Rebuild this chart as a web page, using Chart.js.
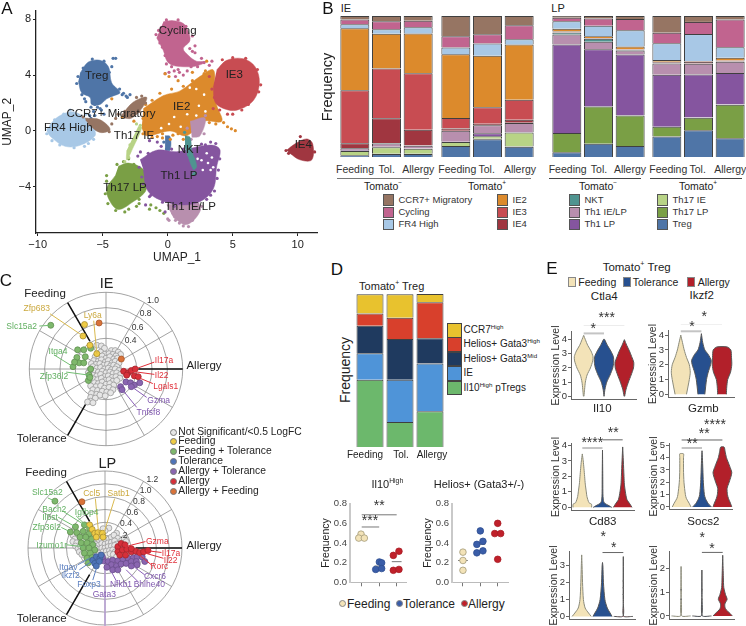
<!DOCTYPE html>
<html>
<head>
<meta charset="utf-8">
<script src="https://cdn.jsdelivr.net/npm/chart.js@4/dist/chart.umd.min.js"></script>
<style>
html, body { margin: 0; padding: 0; background: #fff; overflow: hidden; }
#page { position: relative; width: 746px; height: 626px; overflow: hidden; font-family: "Liberation Sans", Arial, sans-serif; color: #222; }
#page canvas { position: absolute; }
.t { position: absolute; white-space: nowrap; transform: translate(-50%, -50%); line-height: 1; }
.box { position: absolute; box-sizing: border-box; }
sup { font-size: 62%; line-height: 0; }
</style>
</head>
<body>
<div id="page"></div>
<script>
// ---- panel A, UMAP clusters: outline of each blob and stray cells around it
const cyclingShape = [[-0.33,7.82],[0.4,7.9],[1.2,7.7],[1.59,7.13],[1.7,6.44],[1.2,5.9],[1.6,5.4],[2.2,5.0],[2.9,4.95],[2.2,4.65],[1.2,4.6],[0.4,4.7],[-0.05,5.0],[-0.33,5.75],[-0.85,6.67]];
const cyclingDots = [[-0.5,7.4],[-0.9,6.9],[-0.4,6.0],[-0.2,5.4],[0.3,4.6],[0.8,4.4],[1.2,4.0],[0.6,3.9],[-0.2,4.1],[2.3,4.6],[2.8,4.9],[3.2,4.7],[1.9,5.7],[2.1,6.1],[0.5,4.3],[3.4,5.0],[2.6,5.2],[0.1,4.2],[0.9,4.2],[1.5,4.3],[1.8,4.6],[-0.1,4.8],[2.1,5.6],[1.7,5.9],[1.4,5.3],[1.6,6.6],[1.9,6.8],[-0.7,7.2],[-0.6,6.3],[-0.1,7.95],[0.8,7.95],[1.4,7.5]];
const tregShape = [[-6.74,4.14],[-6.1,4.94],[-5.2,5.06],[-4.56,4.6],[-4.31,3.45],[-3.67,2.76],[-4.2,2.5],[-4.69,2.3],[-5.2,1.9],[-5.85,1.9],[-5.97,2.4],[-6.62,2.74],[-6.87,3.56]];
const tregDots = [[-5.6,1.1],[-5.9,0.9],[-5.1,1.5],[-4.7,1.8],[-3.1,2.4],[-3.4,2.7],[-4.3,4.6],[-4.2,5.2],[-4.0,5.2],[-0.3,-0.8],[-0.1,-1.3],[-6.6,2.6],[-6.3,2.1],[-2.9,2.6],[-3.7,3.0],[-5.4,1.7],[-5.7,1.4],[-6.0,1.1],[-4.9,1.2],[-6.9,3.9],[-7.0,3.4],[-6.5,4.5],[-5.8,5.15],[-4.9,5.0],[-4.5,4.2],[-4.2,3.1],[-3.5,2.6],[-3.2,2.5],[-6.4,2.3],[-5.9,1.7],[-5.6,1.9],[-5.2,1.6]];
const fr4Shape = [[-9.05,0.46],[-8.41,1.03],[-7.38,1.38],[-6.49,1.03],[-5.72,0.23],[-5.59,-0.34],[-6.74,-1.03],[-7.9,-1.1],[-8.95,-0.46],[-9.3,0.0]];
const fr4Dots = [[-9.2,0.1],[-9.3,-0.2],[-8,1.2],[-7.5,1.5],[-6.3,1.2],[-5.5,0.1],[-5.7,-0.6],[-6.1,-0.9],[-8.7,0.8],[-8.9,-0.7],[-8.3,-1.0],[-7.2,-1.2],[-6.4,-1.1]];
const ccr7ShapeA = [[-6.36,0.92],[-5.2,0.8],[-4.43,0.11],[-5.2,-0.11],[-6.1,0.46]];
const ccr7ShapeB = [[-3.54,1.15],[-2.64,2.07],[-1.62,2.41],[-2.0,1.6],[-2.77,0.92],[-3.41,0.92]];
const ccr7Dots = [[-2.0,2.5],[-1.7,2.0],[-3.3,1.4],[-4.0,0.9],[-4.3,0.5],[-4.5,-0.05],[-3.8,1.2],[-2.4,2.4],[-2.2,1.4],[-6.5,1],[-6.2,0.8]];
const ie2Shape = [[-1.87,1.6],[-0.33,2.53],[0.95,2.87],[2.49,3.91],[3.51,4.37],[3.6,2.76],[3.77,1.84],[4.15,0.69],[2.74,0.69],[1.46,-0.34],[0.18,0],[-1.62,-0.34],[-2.0,0.23]];
const ie2Dots = [[4.3,0.6],[4.6,0.3],[4.9,0.15],[5.2,0.02],[4.0,0.75],[-0.4,-0.5],[0.2,-0.6],[1.2,-0.6],[3.6,1.5],[3.0,5.0],[2.8,4.1],[-0.2,4.1],[0.8,3.6],[1.9,4.2],[0.1,3.9],[-1.9,0.9],[-2.6,0.7],[-3.5,1.0],[-4.3,2.3],[-0.8,-0.4],[-1.7,1.9],[-1.2,2.2],[-0.6,2.7],[0.3,3.0],[1.2,3.2],[1.9,3.6],[2.9,4.3],[0.8,-0.2],[0.4,-0.3],[-0.4,-0.2],[-1.2,-0.45],[-1.9,-0.2],[2.2,0.3],[3.2,0.6],[3.7,0.5]];
const ie3Shape = [[3.77,4.37],[4.54,5.06],[5.82,5.17],[6.72,4.6],[7.05,3.45],[6.59,2.18],[5.31,1.49],[4.28,1.61],[3.64,2.07],[3.51,3.22]];
const ie3Dots = [[3.2,3.9],[3.4,3.0],[3.6,2.4],[3.5,1.6],[5,1.2],[4.6,1.2],[4.2,5.1],[5,5.25],[6,5.2],[6.9,4.4],[7.15,3.3],[7.0,2.8],[6.2,1.9],[5.7,1.5],[4.0,1.5]];
const ie4Shape = [[9.15,-1.38],[9.8,-0.92],[10.69,-0.57],[11.15,-0.92],[11.08,-2.07],[10.18,-2.07],[9.41,-1.61]];
const ie4Dots = [[10.2,-0.4],[9.1,-1.4],[9.3,-1.6],[11.3,-1.5],[9.5,-1.3]];
const th1LpShape = [[-2.13,-2.07],[-0.85,-1.38],[0.69,-1.49],[2.23,-1.15],[3.51,-1.03],[4.03,-1.38],[3.77,-2.53],[3.51,-4.14],[2.49,-5.06],[0.95,-5.29],[-0.85,-4.83],[-1.62,-4.14],[-1.87,-2.76]];
const th1LpDots = [[-2.3,-1.8],[-2.1,-1.5],[-1.4,-0.7],[-0.8,-0.8],[-0.5,-1.1],[3.7,-0.9],[3.8,-1.4],[4.0,-2],[3.3,-0.8],[2.9,-1],[2.7,-4.6],[3.3,-4.6],[-1.4,-4.7],[-1.9,-2.2],[-1.7,-5.3],[-0.2,-5.8],[-2.2,-2.6],[-2.0,-3.3],[-1.9,-3.8],[-1.3,-4.6],[-0.4,-5.1],[0.5,-5.4],[3.9,-2.8],[3.8,-3.4],[3.6,-4.3],[3.0,-4.9],[0.3,-1.3],[1.2,-1.3],[2.6,-0.95],[-1.5,-1.6]];
const th1IeLpShapeA = [[-0.08,-5.29],[2.23,-5.06],[2.49,-5.75],[1.46,-6.71],[0.44,-6.21]];
const th1IeLpShapeB = [[1.72,0.69],[2.87,0.92],[2.49,-0.34],[1.85,-0.46]];
const th1IeLpDots = [[0,-6.3],[0.1,-6.4],[0.6,-6.4],[2.6,-5.4],[2.8,-0.2],[2.9,1.1],[1.5,0.2],[1.8,-0.6],[2.4,-5.6],[0.4,-5.9],[1.9,-6.4],[1.2,-6.8],[1.6,-6.85],[0.9,-6.6]];
const th17LpShape = [[-3.79,-2.53],[-3.03,-2.3],[-1.87,-2.76],[-1.62,-3.68],[-1.74,-4.37],[-2.64,-5.06],[-3.79,-5.63],[-4.43,-5.06],[-4.69,-4.14],[-4.05,-3.22]];
const th17LpDots = [[-1.3,-5.3],[-0.9,-5.5],[-0.6,-5.7],[-2.2,-5.2],[-3,-5.6],[-4.7,-3.2],[-4.7,-3.6],[-1.4,-5.6],[-0.3,-5.9],[-3,-2],[-2.6,-2.4],[-2.4,-5.4],[-4.8,-4.5],[-4.6,-5.2],[-4.0,-5.7],[-3.3,-5.8],[-2.2,-4.9],[-3.9,-2.4],[-3.4,-2.2]];
const th17IeShape = [[-2.26,0.34],[-2.0,0.23],[-2.64,-1.15],[-3.15,-2.07],[-3.15,-1.38]];
const th17IeDots = [[-3.3,-2.2],[-3,-1.9],[-2.9,-1],[-2.4,0.5],[-2.1,0.4]];
const nktShape = [[1.33,-0.34],[1.72,-0.46],[1.85,-1.38],[2.23,-2.53],[1.97,-2.76],[1.33,-1.15]];
const nktDots = [[2.1,-3],[2.0,-3.1],[1.3,-0.1],[1.6,-1.7],[2.0,-2],[1.5,-0.7]];
const tregSmallShape = [[-0.2,-0.34],[0.18,-0.4],[0.18,-1.38],[-0.2,-1.38]];
const umapGaps = [[2.6,-2.1],[3.1,-2.3],[3.4,-1.9],[3.0,-1.6],[2.7,-2.8],[3.3,-2.8],[2.3,-2.0],[3.5,-2.6],[2.4,1.8],[2.9,1.4],[2.2,1.1],[1.0,0.3],[0.5,1.0],[2.8,2.6],[1.5,1.2],[0.1,0.5],[-0.5,0.2],[1.7,3.1],[2.2,3.0]];
const umapXTicks = [-10, -5, 0, 5, 10];
const umapYTicks = [-4, 0, 4, 8];

// ---- panel B, cluster frequency (%) per bar, 12 bars left to right
const barLabels = ["Feeding", "Tol.", "Allergy"];
const ccr7 =    [2.4,3.8,3.3, 14.4,13,6.6, 1.2,1.7,2.1, 11.8,4.2,2.4];
const cycling = [3.5,5.7,4.7, 8,6.6,9.9, 2.6,5.2,8, 7.5,8.7,19.8];
const fr4 =     [2.8,3.1,4.5, 4.7,8.7,3.8, 5.2,7.5,11.6, 11.8,19.3,7.5];
const ie2 =     [43.9,24.8,28.1, 45.3,36.6,39.4, 2.1,1.2,1.9, 1.4,0.3,1.9];
const ie3 =     [37.5,35.4,40.3, 7.5,11.8,14.4, 0.4,0.3,0.3, 0.3,0.3,0.3];
const ie4 =     [3.3,17.7,11.1, 1.6,0.9,2.1, 0.4,0.3,0.3, 0.7,1.2,0.5];
const nkt =     [0.2,0.2,0.2, 0.1,0.1,0.1, 1.2,2.1,0.3, 0.1,0.1,0.1];
const th1IeLp = [1.4,2.4,1.9, 7.8,5.7,6.6, 7.1,5.4,2.8, 8,7.8,8];
const th1Lp =   [0.5,0.3,0.3, 0.1,2.1,0.2, 63,40.6,43.2, 36.8,30.7,22.4];
const th17Ie =  [2.8,4.7,3.5, 2.8,1.9,9.9, 0.1,0.1,0.1, 0.1,0.1,0.1];
const th17Lp =  [0.3,0.2,0.2, 0.1,0.2,0.3, 13.7,26.4,21.7, 6.8,9,23.8];
const treg =    [1.2,2.1,2.1, 7.8,12.7,7.3, 3.3,9.4,7.8, 14.6,19.1,13.4];

// ---- panel C, logFC plots: x is Allergy side, grey = not significant
const ieRings = [0.2, 0.4, 0.6, 0.8, 1.0];
const lpRings = [0.2, 0.4, 0.6, 0.8, 1.0, 1.2];
const ieGrey = [[-.12,.31],[-.06,.3],[-.02,.27],[.07,.24],[.12,.24],[.16,.22],[.19,.19],[-.11,.2],[-.07,.22],[-.02,.19],[.04,.2],[.09,.19],[.13,.17],[-.14,.16],[-.09,.15],[-.05,.17],[0,.14],[.05,.16],[.1,.13],[.15,.14],[-.16,.11],[-.1,.1],[-.06,.12],[-.01,.09],[.03,.11],[.08,.08],[.12,.1],[.17,.08],[-.19,.07],[-.13,.06],[-.08,.07],[-.03,.05],[.02,.06],[.06,.04],[.1,.05],[.14,.03],[-.17,.03],[-.12,.01],[-.07,.02],[-.02,0],[.03,.01],[.07,-.01],[.12,0],[.17,-.02],[-.21,-.01],[-.15,-.03],[-.1,-.04],[-.05,-.03],[0,-.05],[.05,-.04],[.09,-.06],[.14,-.05],[.19,-.07],[-.23,-.05],[-.17,-.08],[-.12,-.09],[-.07,-.07],[-.02,-.1],[.03,-.09],[.08,-.11],[.13,-.1],[.18,-.12],[-.16,-.13],[-.11,-.14],[-.06,-.12],[-.01,-.15],[.04,-.14],[.09,-.16],[.14,-.15],[-.15,-.18],[-.1,-.19],[-.05,-.17],[0,-.2],[.05,-.19],[.1,-.21],[-.2,-.22],[-.13,-.23],[-.07,-.22],[-.02,-.25],[.04,-.24],[.09,-.27],[-.17,-.27],[-.11,-.28],[-.05,-.29],[.01,-.3],[.06,-.31],[-.19,-.32],[-.12,-.33],[-.08,-.34],[-.01,-.35],[-.2,-.37],[-.14,-.38],[-.2,-.42],[-.24,-.43],[-.17,-.44]];
const ieFeeding = [[-.28,.58],[-.3,.43],[-.21,.31],[-.12,.2]];
const ieAllergyFeeding = [[-.09,.6],[.2,.13]];
const ieFeedingTol = [[-.72,.57],[-.37,.25],[-.29,.25],[-.38,.15],[-.27,.16],[-.43,.03],[-.35,.08],[-.29,.08],[-.41,.09],[-.2,0],[-.22,-.08],[-.23,-.15],[-.21,-.11],[-.2,.27]];
const ieAllergy = [[.23,-.03],[.29,-.05],[.33,-.02],[.38,0],[.27,-.08],[.37,-.09],[.42,-.1]];
const ieAllergyTol = [[.19,-.23],[.21,-.27],[.26,-.17],[.32,-.18],[.37,-.21],[.44,-.18],[.33,-.23]];
const lpGrey = [[-.5,.2],[-.47,.14],[-.5,.1],[-.44,.08],[-.46,.03],[-.42,-.01],[-.38,.03],[-.4,-.06],[-.36,-.1],[-.3,-.12],[-.14,.12],[-.1,.1],[-.05,.13],[.01,.12],[.06,.14],[.1,.17],[.06,.31],[0,.27],[-.03,.3],[.18,.23],[.14,.2],[.2,.15],[.26,.12],[.3,.15],[.33,.1],[-.15,.06],[-.1,.04],[-.05,.07],[0,.06],[.05,.08],[.1,.09],[.15,.11],[.18,.06],[-.15,0],[-.1,-.02],[-.05,0],[0,0],[.05,.02],[.1,.03],[.15,.04],[-.13,-.06],[-.08,-.08],[-.03,-.06],[.02,-.05],[.07,-.04],[.12,-.03],[.16,-.06],[-.12,-.11],[-.02,-.12],[.03,-.11],[.08,-.09],[.13,-.1],[.18,-.14]];
const lpFeeding = [[-.24,.36],[-.2,.29],[-.16,.23],[-.11,.24],[-.04,.23],[-.135,.17],[-.03,.17]];
const lpAllergyFeeding = [[-.36,.72]];
const lpFeedingTol = [[-.78,.73],[-.32,.36],[-.24,.3],[-.46,.33],[-.54,.25],[-.44,.24],[-.34,.26],[-.25,.22],[-.39,.17],[-.3,.17],[-.21,.14],[-.37,.08],[-.28,.08],[-.19,.05],[-.34,0],[-.25,0],[-.16,-.03],[-.32,-.08],[-.23,-.08],[-.28,-.16],[-.2,-.15],[-.26,-.23]];
const lpTolerance = [[-.19,-.19],[-.135,-.135],[-.08,-.16],[-.16,-.24],[-.09,-.21],[-.135,-.28],[-.06,-.11]];
const lpAllergyTol = [[-.02,-.2],[.05,-.21],[.12,-.19],[.2,-.2],[.28,-.18],[.36,-.16],[.44,-.15],[.5,-.14],[.58,-.14],[.1,-.26],[.18,-.28],[.25,-.25],[.33,-.24],[.41,-.21],[.49,-.21],[.03,-.3],[.12,-.34],[.2,-.34],[.41,-.28],[.5,-.26],[.62,-.21],[-.04,-.14]];
const lpAllergy = [[.2,.02],[.25,.07],[.31,.05],[.2,-.06],[.27,-.03],[.34,-.02],[.41,-.06],[.48,-.05],[.23,-.11],[.32,-.11],[.41,-.01],[.54,-.07],[.6,-.06],[.67,-.04]];
// leader lines from gene name to its dot
const ieYellowLeaders = [[[-.73,.72],[-.3,.43]], [[-.16,.63],[-.12,.2]]];
const ieGreenLeaders = [[[-.87,.56],[-.72,.57]], [[-.67,.18],[-.43,.03]], [[-.52,-.04],[-.22,-.08]]];
const ieRedLeaders = [[[.63,.09],[.38,0]], [[.63,-.07],[.33,-.03]], [[.61,-.19],[.37,-.09]]];
const iePurpleLeaders = [[[.53,-.37],[.26,-.18]], [[.4,-.5],[.19,-.24]]];
const lpYellowLeaders = [[[-.15,.77],[-.1,.23]], [[.15,.77],[-.03,.19]]];
const lpGreenLeaders = [[[-.89,.78],[-.78,.73]], [[-.45,.5],[-.25,.31]], [[-.65,.57],[-.32,.36]], [[-.73,.48],[-.46,.33]], [[-.68,.32],[-.54,.25]], [[-.6,.05],[-.34,.02]]];
const lpRedLeaders = [[[.63,.1],[.31,.02]], [[.88,-.07],[.64,-.04]], [[.91,-.16],[.59,-.07]], [[.72,-.26],[.51,-.09]]];
const lpPurpleLeaders = [[[.62,-.42],[.41,-.26]], [[.51,-.52],[.33,-.34]], [[.18,-.52],[.1,-.37]], [[0,-.15],[0,-1.22]]];
const lpBlueLeaders = [[[-.19,-.5],[-.135,-.32]], [[-.4,-.34],[-.21,-.21]], [[-.42,-.26],[-.24,-.16]]];

// ---- panel D
const dIl10 =   [43.9, 16.3, 23.3];
const dIe =     [17.4, 27.6, 31.3];
const dMid =    [18.0, 26.7, 16.5];
const dHigh =   [8.0, 13.9, 23.5];
const dCcr7 =   [12.6, 15.4, 5.4];
const freqTicks = [0, 0.2, 0.4, 0.6, 0.8];
const groupTicks = [1, 2, 3];
const il10Feeding = [[0.96,.49],[0.83,.45],[1.15,.45]];
const il10Tolerance = [[2.01,.207],[2.14,.198],[1.8,.131],[2.14,.14]];
const il10Allergy = [[3.13,.316],[2.81,.274],[2.81,.122],[3.13,.131]];
const il10Medians = [[1,.46],[2,.165],[3,.21]];
const heliosFeeding = [[1,.307],[1,.222],[1,.122]];
const heliosTolerance = [[2,.523],[1.8,.386],[2.15,.417],[1.8,.3],[2.15,.32]];
const heliosAllergy = [[3,.6],[2.83,.496],[3.17,.496],[3,.234]];
const heliosMedians = [[1,.222],[2,.386],[3,.496]];

// ---- panel E, violins as [expression, relative density]
const ctla4Feeding = [[0,.03],[.5,.1],[1,.18],[1.5,.36],[2,.72],[2.5,.97],[2.8,1],[3.2,.78],[3.6,.43],[4,.18],[4.3,0]];
const ctla4Tol = [[0,0],[.5,.1],[1,.29],[1.5,.64],[2,.93],[2.4,1.03],[2.8,1],[3.2,.72],[3.6,.36],[4,.07],[4.05,0]];
const ctla4All = [[0,.03],[.5,.18],[1,.43],[1.5,.72],[2,.97],[2.4,1],[2.8,.78],[3.2,.54],[3.6,.25],[4,0]];
const ikzf2Feeding = [[0,.6],[1,.9],[1.5,1],[2,.9],[2.5,.6],[3,.36],[3.5,.18],[4,0]];
const ikzf2Tol = [[0,.36],[1,.54],[1.5,.72],[2,.97],[2.3,1.03],[2.7,.72],[3,.36],[3.5,.14],[4.1,0]];
const ikzf2All = [[0,.46],[.5,.5],[1,.6],[1.5,.9],[2,1.03],[2.5,1],[3,.93],[3.2,.55]];
const il10VFeeding = [[0,1],[.2,1],[.3,.72],[.7,.5],[1,.43],[1.5,.32],[2,.25],[2.5,.18],[3,.1],[3.45,0]];
const il10VTol = [[0,1],[.1,.72],[.3,.18],[.6,.07],[1,.04],[2,.03],[3.7,0]];
const il10VAll = [[0,1],[.2,.8],[.5,.46],[1,.29],[1.5,.18],[2,.14],[3,.07],[3.9,0]];
const gzmbFeeding = [[0,1],[.3,.8],[.7,.5],[1,.4],[2,.25],[3,.2],[4,.2],[4.3,.2]];
const gzmbTol = [[0,1],[.3,.64],[.7,.36],[1,.25],[2,.14],[3,.09],[4,.04],[4.55,0]];
const gzmbAll = [[0,1],[.3,.86],[.7,.64],[1,.54],[1.5,.5],[2,.72],[2.5,.93],[2.8,1],[3.3,.78],[4,.43],[4.5,.29],[4.85,.18]];
const cd83Feeding = [[0,1],[.2,.72],[.5,.36],[1,.18],[2,.09],[3,.04],[3.65,0]];
const cd83Tol = [[0,1],[.2,.8],[.5,.5],[1,.25],[2,.1],[3,.04],[3.2,0]];
const cd83All = [[0,1],[.02,.03],[1,.02],[3.55,0]];
const socs2Feeding = [[0,1],[.015,.03],[1,.02],[2.08,0]];
const socs2Tol = [[0,1],[.015,.03],[1,.02],[1.93,0]];
const socs2All = [[0,1],[.1,.78],[.3,.29],[.5,.22],[.7,.46],[.9,.29],[1.2,.11],[1.6,.07],[2,.04],[2.55,0]];

const FONT = '"Liberation Sans", Arial, sans-serif';
Chart.defaults.font.family = FONT;
Chart.defaults.animation = false;
Chart.defaults.events = [];
Chart.defaults.plugins.legend.display = false;
Chart.defaults.plugins.tooltip.enabled = false;

const page = document.getElementById("page");

function label(html, x, y, size, color, extra) {
    let d = document.createElement("div");
    d.className = "t";
    d.innerHTML = html;
    d.style.left = x + "px";
    d.style.top = y + "px";
    d.style.fontSize = size + "px";
    d.style.color = color || "#222";
    if (extra && extra.rotate) d.style.transform = "translate(-50%,-50%) rotate(-90deg)";
    if (extra && extra.left) d.style.transform = "translate(0,-50%)";
    page.appendChild(d);
    d.style.zIndex = 5;
}

function rect(x, y, w, h, bg, border, round) {
    let d = document.createElement("div");
    d.className = "box";
    d.style.cssText += `left:${x}px;top:${y}px;width:${w}px;height:${h}px;background:${bg};`;
    if (border) d.style.border = "1px solid " + border;
    if (round) d.style.borderRadius = "50%";
    d.style.zIndex = 4;
    page.appendChild(d);
}

// a canvas whose plot area lands on the given pixels
function chartAt(area, gutter, config) {
    let g = Object.assign({ left: 0, top: 0, right: 0, bottom: 0 }, gutter);
    let c = document.createElement("canvas");
    c.width = area.r - area.l + g.left + g.right;
    c.height = area.b - area.t + g.top + g.bottom;
    c.style.left = (area.l - g.left) + "px";
    c.style.top = (area.t - g.top) + "px";
    page.appendChild(c);
    config.options = config.options || {};
    config.options.responsive = false;
    config.options.layout = { autoPadding: false, padding: { top: g.top, right: g.right } };
    let s = config.options.scales;
    s.x.afterFit = b => { b.height = g.bottom; };
    s.y.afterFit = b => { b.width = g.left; };
    if (s.x.display === false) config.options.layout.padding.bottom = g.bottom;
    if (s.y.display === false) config.options.layout.padding.left = g.left;
    return new Chart(c, config);
}

function linearAxis(min, max, ticks, fmt, o) {
    o = Object.assign({ size: 10, color: "#333", line: "#333", lineWidth: 1, tick: 3, pad: 2 }, o);
    return {
        type: "linear", min: min, max: max,
        afterBuildTicks: s => { s.ticks = ticks.map(v => ({ value: v })); },
        border: { color: o.line, width: o.lineWidth },
        grid: { display: true, drawOnChartArea: false, drawTicks: o.tick > 0, tickLength: o.tick, color: o.tickColor || o.line, lineWidth: 1 },
        ticks: { display: !o.noLabels, color: o.color, font: { size: o.size, family: FONT }, padding: o.pad, autoSkip: false, maxRotation: 0, callback: fmt },
        title: o.title ? { display: true, text: o.title, color: o.titleColor || "#222", font: { size: o.titleSize || 11, family: FONT }, padding: o.titlePad || { top: 0, bottom: 0 } } : { display: false }
    };
}
const hidden = (min, max) => ({ type: "linear", display: false, min: min, max: max });

function poly(data, color, border, tension) {
    return { data: data, showLine: true, fill: "shape", backgroundColor: color, borderColor: border || color, borderWidth: border ? 1 : 0.5, pointRadius: 0, tension: tension || 0, clip: false };
}
function blob(data, color) { return poly(data, color, null, 0.35); }
function dots(data, color, r, border) {
    return { data: data, backgroundColor: color, borderColor: border || color, borderWidth: border ? 0.8 : 0, pointRadius: r, pointStyle: "circle" };
}
function segment(pair, color, width) {
    return { data: pair, showLine: true, borderColor: color, borderWidth: width || 1, pointRadius: 0, clip: false, tension: 0 };
}

// ---------- A
const C = { ccr7: "#967563", cycling: "#c1648f", fr4: "#a8c8e6", ie2: "#dc8a2c", ie3: "#c84c52", ie4: "#a03640", nkt: "#4f9490", th1IeLp: "#b88fae", th1Lp: "#85559f", th17Ie: "#b8d386", th17Lp: "#7a9f45", treg: "#4f75a7" };

const umapSets = [
    blob(fr4Shape, C.fr4), dots(fr4Dots, C.fr4, 1.6),
    blob(cyclingShape, C.cycling), dots(cyclingDots, C.cycling, 1.6),
    blob(tregShape, C.treg), blob(tregSmallShape, C.treg), dots(tregDots, C.treg, 1.6),
    blob(ie2Shape, C.ie2), dots(ie2Dots, C.ie2, 1.6),
    blob(ie3Shape, C.ie3), dots(ie3Dots, C.ie3, 1.6),
    blob(ccr7ShapeA, C.ccr7), blob(ccr7ShapeB, C.ccr7), dots(ccr7Dots, C.ccr7, 1.6),
    blob(ie4Shape, C.ie4), dots(ie4Dots, C.ie4, 1.6),
    blob(th17LpShape, C.th17Lp), dots(th17LpDots, C.th17Lp, 1.6),
    blob(th17IeShape, C.th17Ie), dots(th17IeDots, C.th17Ie, 1.6),
    blob(th1IeLpShapeA, C.th1IeLp), blob(th1IeLpShapeB, C.th1IeLp), dots(th1IeLpDots, C.th1IeLp, 1.6),
    blob(th1LpShape, C.th1Lp), dots(th1LpDots, C.th1Lp, 1.6),
    dots(umapGaps, "#ffffff", 1.3),
    blob(nktShape, C.nkt), dots(nktDots, C.nkt, 1.6)
];
const minus = v => String(v).replace("-", "\u2212");
chartAt({ l: 36, t: 2, r: 318, b: 233 }, { left: 36, bottom: 32 }, {
    type: "scatter",
    data: { datasets: umapSets.reverse() },
    options: { scales: {
        x: linearAxis(-10.13, 11.56, umapXTicks, minus, { size: 11, line: "#222", lineWidth: 1.3, title: "UMAP_1", titleSize: 12, color: "#222" }),
        y: linearAxis(-7.31, 8.62, umapYTicks, minus, { size: 11, line: "#222", lineWidth: 1.3, title: "UMAP_2", titleSize: 12, color: "#222" })
    } }
});

[["Cycling",177.7,30.7],["Treg",96.7,76],["IE3",234.3,75.3],["IE2",181.7,106.7],["CCR7+ Migratory",111,114],["FR4 High",68.3,128],["Th17 IE",134,136],["NKT",189.3,150.3],["IE4",303.3,145.3],["Th1 LP",179,175.7],["Th17 LP",125,187.7],["Th1 IE/LP",190.3,207.3]]
    .forEach(l => label(l[0], l[1], l[2], 11.5, "#222"));

// ---------- B
const stackOrder = [["treg", treg], ["th17Lp", th17Lp], ["th17Ie", th17Ie], ["th1Lp", th1Lp], ["th1IeLp", th1IeLp], ["nkt", nkt], ["ie4", ie4], ["ie3", ie3], ["ie2", ie2], ["fr4", fr4], ["cycling", cycling], ["ccr7", ccr7]];
const barTotal = i => stackOrder.reduce((a, s) => a + s[1][i], 0);

function stackedBars(area, labels, sets) {
    return chartAt(area, {}, {
        type: "bar",
        data: { labels: labels, datasets: sets },
        options: { scales: {
            x: { stacked: true, display: false },
            y: { type: "linear", stacked: true, display: false, min: 0, max: 100 }
        } }
    });
}
[[0, 339, 434], [3, 440, 535], [6, 551, 646], [9, 651, 746]].forEach(g => {
    let sets = stackOrder.map(s => ({
        data: [0, 1, 2].map(j => s[1][g[0] + j] / barTotal(g[0] + j) * 100),
        backgroundColor: C[s[0]], borderColor: "#3f3f3f", borderWidth: 1,
        categoryPercentage: 1, barPercentage: 0.915
    }));
    stackedBars({ l: g[1], t: 16, r: g[2], b: 157 }, barLabels, sets);
});
[355, 386.7, 418.3, 457.3, 486.7, 520, 567.7, 599, 630, 668.3, 697.7, 730.3].forEach((x, i) => label(barLabels[i % 3], x, 169, 10.5, "#333"));

label("Frequency", 327, 87, 14.5, "#222", { rotate: true });
label("IE", 346, 7.5, 11);
label("LP", 558, 7.5, 11);
[[337, 92, "#777"], [439, 92, "#777"], [549, 92, "#444"], [650, 92, "#444"]].forEach(u => rect(u[0], 178, u[1], 1, u[2]));
[[383, "\u2212"], [487, "+"], [598, "\u2212"], [698, "+"]].forEach(u => label("Tomato<sup>" + u[1] + "</sup>", u[0], 185.5, 10.5));

const legendB = [
    ["CCR7+ Migratory", "ccr7", 383, 194], ["Cycling", "cycling", 383, 206.5], ["FR4 High", "fr4", 383, 218.5],
    ["IE2", "ie2", 497, 194], ["IE3", "ie3", 497, 206.5], ["IE4", "ie4", 497, 218.5],
    ["NKT", "nkt", 569, 194], ["Th1 IE/LP", "th1IeLp", 569, 206.5], ["Th1 LP", "th1Lp", 569, 218.5],
    ["Th17 IE", "th17Ie", 657, 194], ["Th17 LP", "th17Lp", 657, 206.5], ["Treg", "treg", 657, 218.5]
];
legendB.forEach(l => {
    rect(l[2], l[3], 11, 11.5, C[l[1]], "#555");
    label(l[0], l[2] + 15.5, l[3] + 5.5, 9.5, "#333", { left: true });
});

// ---------- C
const polarGrid = {
    id: "polarGrid",
    beforeDatasetsDraw(chart, args, o) {
        let { ctx, scales: { x, y } } = chart;
        let cx = x.getPixelForValue(0), cy = y.getPixelForValue(0);
        let unit = x.getPixelForValue(1) - cx;
        let rMax = o.rings[o.rings.length - 1] * unit;
        ctx.save();
        ctx.strokeStyle = "#8c8c8c";
        ctx.lineWidth = 0.8;
        o.rings.forEach(r => { ctx.beginPath(); ctx.arc(cx, cy, r * unit, 0, Math.PI * 2); ctx.stroke(); });
        for (let a = 0; a < 360; a += 30) {
            let rad = a * Math.PI / 180;
            ctx.beginPath();
            ctx.moveTo(cx, cy);
            ctx.lineTo(cx + rMax * Math.cos(rad), cy - rMax * Math.sin(rad));
            ctx.stroke();
        }
        ctx.strokeStyle = "#111";
        ctx.lineWidth = 1.5;
        [0, 120, 240].forEach(a => {
            let rad = a * Math.PI / 180;
            let from = o.inner * rMax;
            ctx.beginPath();
            ctx.moveTo(cx + from * Math.cos(rad), cy - from * Math.sin(rad));
            ctx.lineTo(cx + rMax * Math.cos(rad), cy - rMax * Math.sin(rad));
            ctx.stroke();
        });
        ctx.restore();
    }
};
const DOT = { grey: "#e6e6e6", yellow: "#eecb45", green: "#7fb86c", blue: "#4f74b8", purple: "#8a66b0", red: "#d5303a", orange: "#d9733a" };
const LINE = { yellow: "#d9b94e", green: "#72bd72", red: "#e0303a", purple: "#8a5fb8", blue: "#5b7fc0" };

function polar(cx, cy, half, range, rings, sets, inner) {
    return chartAt({ l: cx - half, t: cy - half, r: cx + half, b: cy + half }, {}, {
        type: "scatter",
        data: { datasets: sets.reverse() },
        options: {
            scales: { x: hidden(-range, range), y: hidden(-range, range) },
            plugins: { polarGrid: { rings: rings, inner: inner } }
        },
        plugins: [polarGrid]
    });
}
const leaderSets = (list, color) => list.map(p => segment(p, color));

polar(106, 369, 80, 80 / 76.7, ieRings, [
    dots(ieGrey, DOT.grey, 3, "#9a9a9a"),
    dots(ieFeedingTol, DOT.green, 3, "#5f8f50"),
    dots(ieFeeding, DOT.yellow, 3, "#a88e30"),
    dots(ieAllergyFeeding, DOT.orange, 3, "#a8582a"),
    dots(ieAllergyTol, DOT.purple, 3, "#6a4d8c"),
    dots(ieAllergy, DOT.red, 3, "#a5252c"),
    ...leaderSets(ieYellowLeaders, LINE.yellow), ...leaderSets(ieGreenLeaders, LINE.green),
    ...leaderSets(ieRedLeaders, LINE.red), ...leaderSets(iePurpleLeaders, LINE.purple)
], 0.42);

polar(105, 548, 80, 80 / 64.17, lpRings, [
    segment(lpPurpleLeaders[3], "#b9a0d6", 1.5),
    dots(lpGrey, DOT.grey, 3, "#9a9a9a"),
    dots(lpFeedingTol, DOT.green, 3, "#5f8f50"),
    dots(lpFeeding, DOT.yellow, 3, "#a88e30"),
    dots(lpAllergyFeeding, DOT.orange, 3, "#a8582a"),
    dots(lpAllergyTol, DOT.purple, 3, "#6a4d8c"),
    dots(lpTolerance, DOT.blue, 3, "#3c5a92"),
    dots(lpAllergy, DOT.red, 3, "#a5252c"),
    ...leaderSets(lpYellowLeaders, LINE.yellow), ...leaderSets(lpGreenLeaders, LINE.green),
    ...leaderSets(lpRedLeaders, LINE.red), ...leaderSets(lpPurpleLeaders.slice(0, 3), LINE.purple),
    ...leaderSets(lpBlueLeaders, LINE.blue)
], 0.4);

label("IE", 106.7, 283, 14.5);
label("LP", 107.3, 463.3, 14.5);
[["Feeding",45,294],["Allergy",204,366],["Tolerance",41.7,439],["Feeding",46,472.7],["Allergy",204,545.7],["Tolerance",41.7,619]].forEach(l => label(l[0], l[1], l[2], 11.5));
[["1.0",153,300],["0.8",145.7,313.3],["0.6",137.7,326.7],["0.4",130.7,340],["1.2",152.3,478.7],["1.0",145.7,490],["0.8",139,501],["0.6",132.3,512.3],["0.4",126,523.3],[".2",124,535]].forEach(l => label(l[0], l[1], l[2], 8.5, "#333"));
const geneColors = { y: "#cba93f", g: "#62b062", r: "#e0303a", p: "#7e55ad", b: "#5b7fc0" };
[["Zfp683",36.7,308,"y"],["Ly6a",92.7,315,"y"],["Slc15a2",21.7,325.7,"g"],["Itga4",58,350.7,"g"],["Zfp36l2",54,376,"g"],["Il17a",164,360,"r"],["Il22",161.7,375,"r"],["Lgals1",165.7,385.7,"r"],["Gzma",158.7,400,"p"],["Tnfsf8",148.3,412.3,"p"],
 ["Slc15a2",47.3,492.3,"g"],["Ccl5",91.7,492.7,"y"],["Satb1",118.7,492.7,"y"],["Bach2",54.3,509,"g"],["Igfbp4",86.7,512,"g"],["Il6st",50,517.3,"g"],["Zfp36l2",46.7,527,"g"],["Izumo1r",51.7,545,"g"],["Gzma",157.3,541,"r"],["Il17a",171,552.7,"r"],["Il22",170.7,560,"r"],["Rorc",159.3,566,"r"],["Cxcr6",155,575.7,"p"],["Bhlhe40",149.3,584,"p"],["Nfkb1",121,584.3,"p"],["Gata3",104.3,594,"p"],["Foxp3",89,583.7,"b"],["Itgav",68.3,567,"b"],["Ikzf2",70.7,574.7,"b"]]
    .forEach(l => label(l[0], l[1], l[2], 8.5, geneColors[l[3]]));

[["Not Significant/&lt;0.5 LogFC", DOT.grey, 432], ["Feeding", DOT.yellow, 441], ["Feeding + Tolerance", DOT.green, 451], ["Tolerance", DOT.blue, 461], ["Allergy + Tolerance", DOT.purple, 471], ["Allergy", DOT.red, 481], ["Allergy + Feeding", DOT.orange, 491]]
    .forEach(l => {
        rect(169.5, l[2] - 3.5, 7, 7, l[1], "#777", true);
        label(l[0], 178.3, l[2], 10.3, "#222", { left: true });
    });

// ---------- D
const treatC = { yellow: "#e8c22e", red: "#d8402c", navy: "#1f3a5f", blue: "#4f94d8", green: "#6cb86c" };
const dSets = [[dIl10, treatC.green], [dIe, treatC.blue], [dMid, treatC.navy], [dHigh, treatC.red], [dCcr7, treatC.yellow]].map(s => ({
    data: s[0], backgroundColor: s[1], borderColor: "#3f3f3f", borderWidth: 1, categoryPercentage: 1, barPercentage: 0.9
}));
stackedBars({ l: 355, t: 294, r: 445, b: 447 }, barLabels, dSets);
[["Feeding",365],["Tol.",401],["Allergy",432]].forEach(l => label(l[0], l[1], 455, 10));
label("Tomato<sup>+</sup> Treg", 391.7, 285.7, 11);
label("Frequency", 345, 370, 14, "#222", { rotate: true });
[["CCR7<sup>High</sup>", treatC.yellow], ["Helios+ Gata3<sup>High</sup>", treatC.red], ["Helios+ Gata3<sup>Mid</sup>", treatC.navy], ["IE", treatC.blue], ["Il10<sup>High</sup> pTregs", treatC.green]]
    .forEach((l, i) => {
        rect(447, 323 + i * 14.4, 14.5, 14.5, l[1], "#444");
        label(l[0], 463.5, 330 + i * 14.4, 10, "#222", { left: true });
    });

const tint = { feeding: "#f3e3b8", tolerance: "#3a5da8", allergy: "#c0202a" };
function swarm(area, xr, feed, tol, all, medians, sig) {
    let medianSets = medians.map(m => segment([[m[0] - 0.28, m[1]], [m[0] + 0.28, m[1]]], "#777"));
    chartAt(area, { left: 30, bottom: 8 }, {
        type: "scatter",
        data: { datasets: [
            dots(all, tint.allergy, 3.3, "#a81c25"),
            dots(tol, tint.tolerance, 3.3, "#2f4f92"),
            dots(feed, tint.feeding, 3.3, "#a39a7a"),
            ...medianSets,
            ...sig.map(s => segment(s, "#777"))
        ] },
        options: { scales: {
            x: linearAxis(xr[0], xr[1], groupTicks, () => "", { noLabels: true, line: "#bbb", tickColor: "#777", tick: 4 }),
            y: linearAxis(0, 0.8, freqTicks, v => v.toFixed(1), { size: 9.5, color: "#444", line: "#c9c9c9", lineWidth: 2, tick: 0, pad: 3, title: "Frequency", titleSize: 10.5 })
        } }
    });
}
const il10Sig = [[[1, .563], [2, .563]], [[1, .687], [3, .687]]];
swarm({ l: 350, t: 495, r: 407, b: 583 }, [.33, 3.59], il10Feeding, il10Tolerance, il10Allergy, il10Medians, il10Sig);
swarm({ l: 452, t: 495, r: 509, b: 583 }, [.37, 3.65], heliosFeeding, heliosTolerance, heliosAllergy, heliosMedians, []);
label("***", 370, 520, 14, "#333");
label("**", 379.3, 505, 14, "#333");
label("Il10<sup>High</sup>", 387.3, 484, 11);
label("Helios+ (Gata3+/-)", 479, 484, 11);
[["Feeding", tint.feeding, 342.7, 347], ["Tolerance", tint.tolerance, 399, 403], ["Allergy", tint.allergy, 464, 468]].forEach(l => {
    rect(l[2] - 3.5, 600, 7, 7, l[1], "#888", true);
    label(l[0], l[3], 603.5, 12, "#222", { left: true });
});

// ---------- E
function mirror(profile, center) {
    let right = profile.map(p => [center + p[1] * 0.46, p[0]]);
    let left = profile.slice().reverse().map(p => [center - p[1] * 0.46, p[0]]);
    return right.concat(left);
}
function violins(area, xr, yr, ticks, curves, sig, hairs) {
    let sets = [
        ...sig.map(s => segment([[s[0], s[2]], [s[1], s[2]]], s[3] ? "#c4c4c4" : "#666", s[3] ? 2 : 1)),
        poly(mirror(curves[0], 1), tint.feeding, "#8a8a7a", 0.25),
        poly(mirror(curves[1], 2), "#27508f", "#555", 0.25),
        poly(mirror(curves[2], 3), "#b2202a", "#555", 0.25)
    ];
    if (hairs) sets.push(dots(hairs, "#666", 0.8));
    chartAt(area, { left: 21, top: 0, bottom: 4 }, {
        type: "scatter",
        data: { datasets: sets.reverse() },
        options: { scales: {
            x: linearAxis(xr[0], xr[1], [], () => "", { noLabels: true, line: "#666", tick: 0 }),
            y: linearAxis(yr[0], yr[1], ticks, v => String(v), { size: 9.5, color: "#333", line: "#666", tick: 3, pad: 1, title: "Expression Level", titleSize: 10.5, titleColor: "#333" })
        } }
    });
}
// [from, to, y, soft]
violins({ l: 571, t: 325, r: 637, b: 402 }, [.377, 3.62], [-.21, 4.56], [0, 1, 2, 3, 4], [ctla4Feeding, ctla4Tol, ctla4All], [[1, 2, 4.44, true], [1, 3, 5.06]]);
violins({ l: 668, t: 324, r: 735, b: 400 }, [.38, 3.63], [-.2, 4.3], [0, 1, 2, 3, 4], [ikzf2Feeding, ikzf2Tol, ikzf2All], [[1, 2, 4.26, true], [1, 3, 4.81, true]]);
violins({ l: 571, t: 437, r: 635, b: 513 }, [.44, 3.61], [-.19, 4.11], [0, 1, 2, 3, 4], [il10VFeeding, il10VTol, il10VAll], [[1, 2, 3.83, true], [2, 3, 4.36]]);
violins({ l: 669, t: 437, r: 733, b: 512 }, [.38, 3.52], [-.19, 5.12], [0, 1, 2, 3, 4, 5], [gzmbFeeding, gzmbTol, gzmbAll], [[1, 2, 4.77, true], [1, 3, 5.42], [2, 3.1, 6.05]]);
violins({ l: 569, t: 545, r: 636, b: 622 }, [.39, 3.61], [-.17, 3.84], [0, 1, 2, 3], [cd83Feeding, cd83Tol, cd83All], [[1, 3, 4.28], [2, 3, 3.79]], [[3, 1.3], [3, 1.7], [3, 2.1]]);
violins({ l: 669, t: 545, r: 735, b: 622 }, [.42, 3.59], [-.14, 2.7], [0, 1, 2], [socs2Feeding, socs2Tol, socs2All], [[1, 3, 3.01], [2, 3, 2.67]], [[1, .7], [1, 1.1], [2, .7], [2, 1.1]]);

label("Tomato<sup>+</sup> Treg", 636.7, 268.3, 11.5);
[["Feeding", tint.feeding, 567.5, 578.3], ["Tolerance", "#27508f", 622.7, 632.7], ["Allergy", "#b2202a", 686.7, 697.7]].forEach(l => {
    rect(l[2], 277, 8.5, 9.5, l[1], "#888");
    label(l[0], l[3], 281.7, 10.5, "#222", { left: true });
});
[["Ctla4",604.3,297.3],["Ikzf2",701.7,296],["Il10",602.3,409],["Gzmb",703.3,409],["Cd83",602.7,521.7],["Socs2",703.3,521.7]].forEach(l => label(l[0], l[1], l[2], 11.5));
[["*",593.3,325],["***",606.7,314],["*",692,323],["*",704.3,313],["****",592.3,439],["**",613.3,429],["**",692.3,440],["**",704.3,430],["****",715,421],["*",603.3,533],["*",613.7,544],["*",702.3,534],["*",712,545]]
    .forEach(l => label(l[0], l[1], l[2] + 2.5, 14, "#333"));

// panel letters
[["A",7,8],["B",328,8],["C",6,280],["D",337,268.5],["E",552,268]].forEach(l => label(l[0], l[1], l[2], 17, "#111"));
</script>
</body>
</html>
